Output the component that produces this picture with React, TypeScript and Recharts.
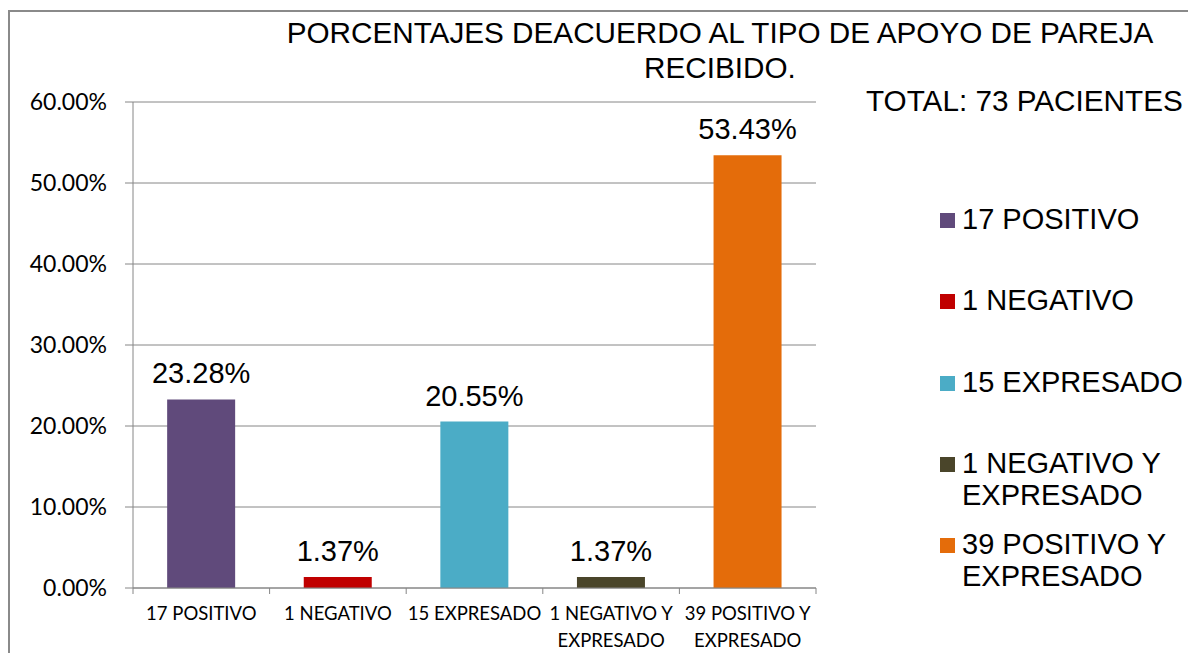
import React from 'react';
import { BarChart, Bar, XAxis, YAxis, CartesianGrid, Cell, LabelList } from 'recharts';

const categories = ['17 POSITIVO', '1 NEGATIVO', '15 EXPRESADO', '1 NEGATIVO Y EXPRESADO', '39 POSITIVO Y EXPRESADO'];
const categoryLines = [['17 POSITIVO'], ['1 NEGATIVO'], ['15 EXPRESADO'], ['1 NEGATIVO Y', 'EXPRESADO'], ['39 POSITIVO Y', 'EXPRESADO']];
const percentages = [0.2328, 0.0137, 0.2055, 0.0137, 0.5343];
const barColors = ['#604A7B', '#C00000', '#4BACC6', '#4A452A', '#E46C0A'];
const yTicks = [0, 0.1, 0.2, 0.3, 0.4, 0.5, 0.6];
const titleLines = ['PORCENTAJES DEACUERDO AL TIPO DE APOYO DE PAREJA', 'RECIBIDO.'];
const totalText = 'TOTAL: 73 PACIENTES';

const GRID = '#868686';
const ARIAL = '"Liberation Sans", Arial, sans-serif';
const CALIBRI = 'Lato, "Open Sans", sans-serif';

const W = 1188;
const H = 653;
const MARGIN = { top: 102, right: 372, bottom: 5, left: 33 };
const Y_WIDTH = 100;
// half of one category band, used for the between-category tick marks
const HALF_BAND = (W - MARGIN.left - MARGIN.right - Y_WIDTH) / categories.length / 2;

const chartData = categories.map((name, i) => ({ name, value: percentages[i] }));

const pct = (v: number) => `${(v * 100).toFixed(2)}%`;

const CategoryTick = (props: any) => {
  const { x, y, payload } = props;
  const idx = payload.index;
  const lines = categoryLines[idx] || [payload.value];
  const axisY = y - 8;
  return (
    <g>
      <line x1={x - HALF_BAND} x2={x - HALF_BAND} y1={axisY} y2={axisY + 6} stroke={GRID} />
      {idx === categories.length - 1 && (
        <line x1={x + HALF_BAND} x2={x + HALF_BAND} y1={axisY} y2={axisY + 6} stroke={GRID} />
      )}
      <text x={x} y={y} textAnchor="middle" fill="#000" fontFamily={CALIBRI} fontSize={18.5}>
        {lines.map((l, i) => (
          <tspan key={i} x={x} dy={i === 0 ? 24 : 27}>
            {l}
          </tspan>
        ))}
      </text>
    </g>
  );
};

export default function App() {
  return (
    <div
      style={{
        position: 'absolute',
        left: 0,
        top: 0,
        width: W,
        height: H,
        overflow: 'hidden',
        background: '#fff',
        fontFamily: ARIAL,
      }}
    >
      {/* outer frame */}
      <div
        style={{
          position: 'absolute',
          left: 8,
          top: 10,
          width: 1300,
          height: 800,
          border: '2px solid #8a8a8a',
        }}
      />

      <BarChart
        width={W}
        height={H}
        data={chartData}
        margin={MARGIN}
        barCategoryGap="25%"
        style={{ position: 'absolute', left: 0, top: 0 }}
      >
        <CartesianGrid vertical={false} stroke={GRID} />
        <XAxis
          dataKey="name"
          height={60}
          interval={0}
          tickSize={6}
          tickLine={false}
          axisLine={{ stroke: GRID }}
          tick={<CategoryTick />}
        />
        <YAxis
          width={Y_WIDTH}
          domain={[0, 0.6]}
          ticks={yTicks}
          interval={0}
          tickFormatter={pct}
          tickSize={8}
          tickMargin={18}
          axisLine={{ stroke: GRID }}
          tickLine={{ stroke: GRID }}
          tick={{ fill: '#000', fontFamily: CALIBRI, fontSize: 23 }}
        />
        <Bar dataKey="value" isAnimationActive={false}>
          {chartData.map((d, i) => (
            <Cell key={`cell-${i}`} fill={barColors[i]} />
          ))}
          <LabelList
            dataKey="value"
            position="top"
            offset={16}
            formatter={(v: any) => pct(Number(v))}
            style={{ fill: '#000', fontFamily: ARIAL, fontSize: 29 }}
          />
        </Bar>
      </BarChart>

      {/* title */}
      <div
        style={{
          position: 'absolute',
          left: 720,
          top: 15,
          transform: 'translateX(-50%)',
          textAlign: 'center',
          whiteSpace: 'nowrap',
          fontSize: 29.7,
          lineHeight: '35px',
          color: '#000',
        }}
      >
        {titleLines.map((t) => (
          <div key={t}>{t}</div>
        ))}
      </div>

      <div
        style={{
          position: 'absolute',
          left: 866,
          top: 83,
          whiteSpace: 'nowrap',
          fontSize: 29.7,
          lineHeight: '35px',
          color: '#000',
        }}
      >
        {totalText}
      </div>

      {/* legend */}
      {categories.map((c, i) => (
        <div
          key={c}
          style={{
            position: 'absolute',
            left: 940,
            top: 203 + i * 81.3,
            display: 'flex',
            alignItems: 'flex-start',
            fontSize: 29,
            lineHeight: '32px',
            color: '#000',
          }}
        >
          <div style={{ width: 15, height: 15, marginTop: 10, marginRight: 7, background: barColors[i] }} />
          <div>
            {categoryLines[i].map((l) => (
              <div key={l} style={{ whiteSpace: 'nowrap' }}>
                {l}
              </div>
            ))}
          </div>
        </div>
      ))}
    </div>
  );
}
